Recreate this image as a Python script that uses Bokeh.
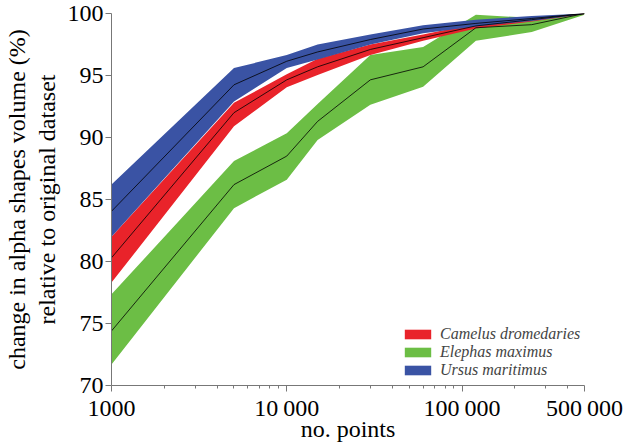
from bokeh.plotting import figure
from bokeh.models import FixedTicker, Legend, LegendItem, Range1d
from bokeh.embed import file_html
from bokeh.resources import INLINE

x_points = [1000, 5000, 10000, 15000, 30000, 60000, 120000, 250000, 500000]

camelus_mean = [80.3, 92.0, 94.65, 95.7, 97.1, 98.05, 99.0, 99.5, 100.0]
camelus_low = [78.3, 90.9, 94.05, 95.05, 96.65, 97.8, 98.8, 99.35, 99.95]
camelus_high = [82.0, 92.8, 95.1, 96.35, 97.5, 98.3, 99.2, 99.65, 100.0]

elephas_mean = [74.4, 86.2, 88.5, 91.3, 94.65, 95.7, 98.85, 99.1, 100.0]
elephas_low = [71.7, 84.3, 86.6, 89.8, 92.65, 94.1, 97.8, 98.5, 99.9]
elephas_high = [77.35, 88.1, 90.35, 92.7, 96.65, 97.3, 99.9, 99.65, 100.0]

ursus_mean = [84.05, 94.25, 96.15, 96.9, 97.9, 98.75, 99.2, 99.6, 100.0]
ursus_low = [82.0, 92.9, 95.6, 96.3, 97.5, 98.4, 98.95, 99.4, 99.95]
ursus_high = [86.2, 95.6, 96.65, 97.5, 98.3, 99.05, 99.5, 99.8, 100.0]

species = ["Camelus dromedaries", "Elephas maximus", "Ursus maritimus"]
colors = ["#E9232A", "#6CBE45", "#3A53A4"]

x_major = [1000, 10000, 100000, 500000]
x_major_labels = ["1000", "10\u2009000", "100\u2009000", "500\u2009000"]
x_minor = [2000, 3000, 4000, 5000, 6000, 7000, 8000, 9000,
           20000, 30000, 40000, 50000, 60000, 70000, 80000, 90000,
           200000, 300000, 400000]
y_major = [70, 75, 80, 85, 90, 95, 100]

FONT = "serif"

p = figure(width=623, height=444, x_axis_type="log",
           x_range=Range1d(1000, 500000), y_range=Range1d(70, 100),
           output_backend="svg", toolbar_location=None,
           min_border_left=108, min_border_right=39, min_border_top=13,
           min_border_bottom=40)
p.outline_line_color = None
p.grid.visible = False

series = [
    (camelus_low, camelus_high, camelus_mean, colors[0]),
    (elephas_low, elephas_high, elephas_mean, colors[1]),
    (ursus_low, ursus_high, ursus_mean, colors[2]),
]
order = [1, 0, 2]
band_renderers = {}
for i in order:
    lo, hi, mn, c = series[i]
    r = p.varea(x=x_points, y1=lo, y2=hi, fill_color=c)
    band_renderers[i] = r
for i in order:
    lo, hi, mn, c = series[i]
    p.line(x_points, mn, line_color="black", line_width=0.8)

p.xaxis.ticker = FixedTicker(ticks=x_major, minor_ticks=x_minor)
p.xaxis.major_label_overrides = {t: l for t, l in zip(x_major, x_major_labels)}
p.yaxis.ticker = FixedTicker(ticks=y_major, minor_ticks=[])

for ax in (p.xaxis[0], p.yaxis[0]):
    ax.axis_line_color = "#777777"
    ax.major_tick_line_color = "#777777"
    ax.minor_tick_line_color = "#777777"
    ax.major_tick_in = 0
    ax.major_tick_out = 6
    ax.minor_tick_in = 0
    ax.minor_tick_out = 3
    ax.major_label_text_font = FONT
    ax.major_label_text_color = "black"
    ax.axis_label_text_font = FONT
    ax.axis_label_text_font_size = "24px"
    ax.axis_label_text_font_style = "normal"
    ax.axis_label_text_color = "black"

p.xaxis.major_label_text_font_size = "24px"
p.yaxis.major_label_text_font_size = "24px"
p.xaxis.major_label_standoff = 3
p.yaxis.major_label_standoff = 2
p.xaxis.axis_label = "no. points"
p.xaxis.axis_label_standoff = -8
p.yaxis.axis_label = "change in alpha shapes volume (%)\nrelative to original dataset"
p.yaxis.axis_label_standoff = 5
p.yaxis.axis_label_text_line_height = 1.15

legend = Legend(items=[LegendItem(label=species[i], renderers=[band_renderers[i]]) for i in range(3)],
                location=(290, 6), orientation="vertical")
legend.background_fill_alpha = 0
legend.border_line_color = None
legend.padding = 0
legend.margin = 0
legend.spacing = 0
legend.glyph_width = 33
legend.glyph_height = 12
legend.label_height = 16
legend.label_standoff = 6
legend.label_text_font = FONT
legend.label_text_font_style = "italic"
legend.label_text_font_size = "16px"
legend.label_text_baseline = "middle"
p.add_layout(legend)

open("out.html", "w").write(file_html(p, INLINE))
